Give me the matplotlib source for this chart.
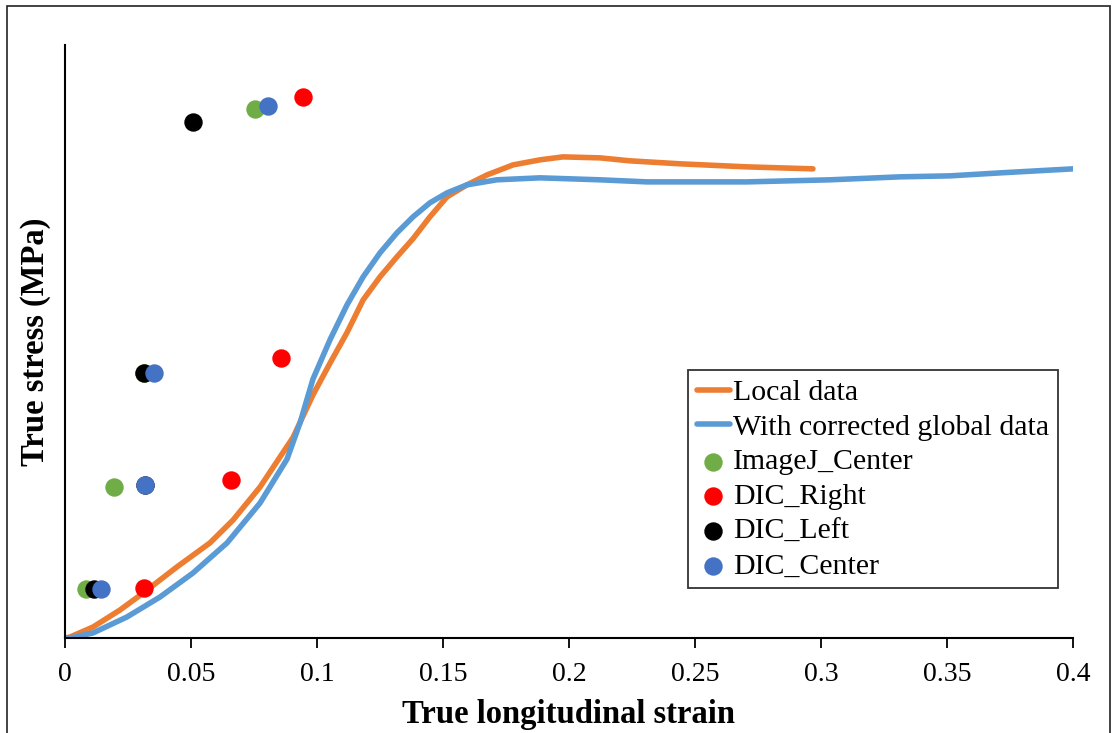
import numpy as np
import matplotlib
matplotlib.use("Agg")
import matplotlib.pyplot as plt
from matplotlib.patches import Rectangle

plt.rcParams['font.family'] = ['Liberation Serif', 'DejaVu Serif']

# Local data curve (strain, stress)
local_strain = [0, 0.0020, 0.0111, 0.0218, 0.0310, 0.0444, 0.0575, 0.0667, 0.0774,
                0.0905, 0.0984, 0.1052, 0.1119, 0.1183, 0.1250, 0.1317, 0.1381,
                0.1448, 0.1516, 0.1595, 0.1675, 0.1778, 0.1885, 0.1976, 0.2123,
                0.2242, 0.2440, 0.2706, 0.2968]
local_stress = [0, 1.0, 11.1, 28.3, 45.5, 71.9, 96.2, 119.4, 152.8,
                203.0, 246.0, 278.3, 309.0, 342.1, 365.4, 385.6, 404.0,
                426.1, 446.4, 458.5, 468.6, 478.7, 483.8, 486.8, 485.8,
                482.8, 479.8, 476.7, 474.7]

# With corrected global data curve
glob_strain = [0, 0.0020, 0.0111, 0.0246, 0.0377, 0.0508, 0.0643, 0.0774, 0.0881,
               0.0933, 0.0984, 0.1052, 0.1119, 0.1183, 0.1250, 0.1317, 0.1381,
               0.1448, 0.1516, 0.1595, 0.1714, 0.1885, 0.2123, 0.2310, 0.2706,
               0.3036, 0.3313, 0.3512, 0.3710, 0.4]
glob_stress = [0, 0.0, 5.1, 21.3, 41.5, 65.8, 96.2, 136.6, 181.0,
               218.0, 262.0, 302.0, 337.0, 365.4, 389.7, 409.9, 426.1,
               440.3, 450.4, 458.5, 463.6, 465.6, 463.6, 461.5, 461.5,
               463.6, 466.6, 467.6, 470.6, 474.7]

# Point measurements
imagej_center_x = [0.0083, 0.0194, 0.0313, 0.0754]
imagej_center_y = [50, 153, 268, 535]
dic_right_x = [0.0313, 0.0659, 0.0857, 0.0944]
dic_right_y = [51, 160, 283, 547]
dic_left_x = [0.0115, 0.0317, 0.0313, 0.0508]
dic_left_y = [50, 155, 268, 522]
dic_center_x = [0.0143, 0.0317, 0.0353, 0.0806]
dic_center_y = [50, 155, 268, 538]

xticks = [0, 0.05, 0.1, 0.15, 0.2, 0.25, 0.3, 0.35, 0.4]
xtick_labels = ['0', '0.05', '0.1', '0.15', '0.2', '0.25', '0.3', '0.35', '0.4']

fig = plt.figure(figsize=(11.17, 7.33), dpi=100)
ax = fig.add_axes([0.0582, 0.1296, 0.9024, 0.809])

ax.plot(local_strain, local_stress, color='#ED7D31', lw=4, label='Local data',
        solid_capstyle='round', solid_joinstyle='round')
ax.plot(glob_strain, glob_stress, color='#5B9BD5', lw=4,
        label='With corrected global data', solid_capstyle='round', solid_joinstyle='round')

ms = 150
ax.scatter(imagej_center_x, imagej_center_y, s=ms, color='#70AD47', label='ImageJ_Center', zorder=3)
ax.scatter(dic_right_x, dic_right_y, s=ms, color='#FF0000', label='DIC_Right', zorder=3)
ax.scatter(dic_left_x, dic_left_y, s=ms, color='#000000', label='DIC_Left', zorder=3)
ax.scatter(dic_center_x, dic_center_y, s=ms, color='#4472C4', label='DIC_Center', zorder=3)

ax.set_xlim(0, 0.4)
ax.set_ylim(0, 600)
ax.set_xticks(xticks)
ax.set_xticklabels(xtick_labels)
ax.set_yticks([])
ax.tick_params(axis='x', direction='out', length=7, width=1.3, labelsize=20, pad=10)
for s in ['top', 'right']:
    ax.spines[s].set_visible(False)
for s in ['left', 'bottom']:
    ax.spines[s].set_linewidth(1.5)

ax.set_xlabel('True longitudinal strain', fontsize=23.5, fontweight='bold', labelpad=9)
ax.set_ylabel('True stress (MPa)', fontsize=23.5, fontweight='bold', labelpad=10)

leg = ax.legend(loc='upper left', bbox_to_anchor=(0.616, 0.495), bbox_transform=fig.transFigure,
                fontsize=21.5, frameon=True, fancybox=False, edgecolor='black',
                handlelength=1.1, handletextpad=0.1, borderpad=0.3, labelspacing=0.26,
                borderaxespad=0)
leg.get_frame().set_linewidth(1.3)
for h in leg.legend_handles[:2]:
    h.set_linewidth(4)

# outer border of the figure
fig.patches.append(Rectangle((0.006, -0.01), 0.988, 1.002, transform=fig.transFigure,
                             fill=False, edgecolor='#222222', lw=1.2))

fig.savefig('out.png', dpi=100)
